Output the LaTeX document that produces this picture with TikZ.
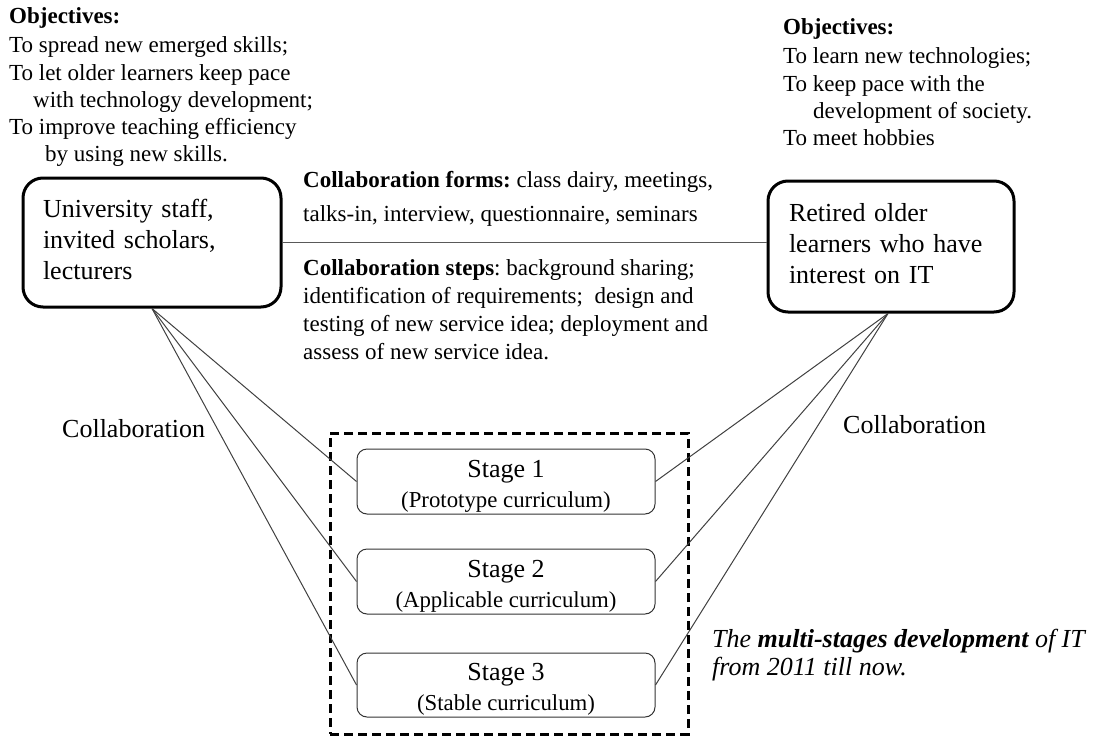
\documentclass[tikz,border=0pt]{standalone}
\usepackage{fontspec}
\setmainfont{Liberation Serif}
\frenchspacing
\newcommand\lowpad{\rule[-6pt]{0pt}{6pt}}
\newcommand\toppad{\rule{0pt}{26pt}}
\begin{document}
\begin{tikzpicture}[x=1pt,y=-1pt,
  txt/.style={inner sep=0pt, anchor=base west, font=\fontsize{23}{28}\selectfont},
  bigtxt/.style={inner sep=0pt, anchor=base west, font=\fontsize{26}{31}\selectfont},
  party/.style={draw, line width=3pt, rounded corners=20pt, align=left, inner sep=0pt,
    font=\fontsize{26}{31}\selectfont},
  stagebox/.style={draw=black!80, line width=1pt, rounded corners=10pt,
    minimum width=298pt, minimum height=65pt, align=center, inner sep=0pt,
    font=\fontsize{22.8}{30}\selectfont},
  link/.style={draw=black!75, line width=1pt},
]
\useasboundingbox (0,0) rectangle (1099,736);

% objectives of the teaching side
\node[txt] (lo0) at (9,23)   {\textbf{Objectives:}};
\node[txt] (lo1) at (9,52)   {To spread new emerged skills;};
\node[txt] (lo2) at (9,80)   {To let older learners keep pace};
\node[txt] (lo3) at (33,107) {with technology development;};
\node[txt] (lo4) at (9,134)  {To improve teaching efficiency};
\node[txt] (lo5) at (45,161) {by using new skills.};

% objectives of the learners
\node[txt] (ro0) at (783,34)  {\textbf{Objectives:}};
\node[txt] (ro1) at (783,63)  {To learn new technologies;};
\node[txt] (ro2) at (783,91)  {To keep pace with the};
\node[txt] (ro3) at (813,118) {development of society.};
\node[txt] (ro4) at (783,145) {To meet hobbies};

% the two parties
\node[party, minimum width=258pt, minimum height=129pt, text width=218pt]
  (lbox) at (152,242.5) {University staff,\\ invited scholars,\\ lecturers\lowpad};
\node[party, minimum width=246pt, minimum height=131pt, text width=204pt]
  (rbox) at (891,246.5) {Retired older\\ learners who have\\ interest on IT\lowpad};

\draw[draw=black!65, line width=1.5pt] (lbox.east) -- (lbox.east -| rbox.west);

% collaboration description
\node[txt] (cf1) at (303,187) {\textbf{Collaboration forms:} class dairy, meetings,};
\node[txt] (cf2) at (303,221) {talks-in, interview, questionnaire, seminars};
\node[txt] (cs1) at (303,275) {\textbf{Collaboration steps}: background sharing;};
\node[txt] (cs2) at (303,303) {identification of requirements;\ \ design and};
\node[txt] (cs3) at (303,331) {testing of new service idea; deployment and};
\node[txt] (cs4) at (303,359) {assess of new service idea.};

% stages of the curriculum
\node[draw, line width=3pt, dash pattern=on 9pt off 5pt, minimum width=358pt,
  minimum height=301pt, inner sep=0pt] (frame) at (509,583.5) {};
\node[stagebox] (s1) at (506,481.5)
  {{\fontsize{26}{30}\selectfont\toppad Stage 1}\\(Prototype curriculum)};
\node[stagebox] (s2) at (506,581.5)
  {{\fontsize{26}{30}\selectfont\toppad Stage 2}\\(Applicable curriculum)};
\node[stagebox, minimum height=64pt] (s3) at (506,685)
  {{\fontsize{26}{30}\selectfont\toppad Stage 3}\\(Stable curriculum)};

% collaboration links
\foreach \s in {s1,s2,s3} {
  \draw[link] (lbox.south) -- (\s.west);
  \draw[link] ([xshift=-3pt]rbox.south) -- (\s.east);
}

\node[bigtxt] (cl) at (62,437)  {Collaboration};
\node[bigtxt] (cr) at (843,433) {Collaboration};

\node[bigtxt] (n1) at (712,647) {\textit{The \textbf{multi-stages development} of IT}};
\node[bigtxt] (n2) at (712,675) {\textit{from 2011 till now.}};
\end{tikzpicture}
\end{document}
